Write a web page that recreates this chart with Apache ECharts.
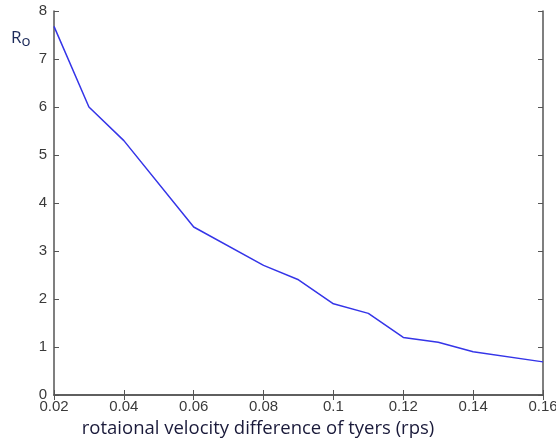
<!DOCTYPE html>
<html><head><meta charset="utf-8">
<script src="https://cdn.jsdelivr.net/npm/echarts@6/dist/echarts.min.js"></script>
<style>html,body{margin:0;padding:0;background:#fff}#c{width:556px;height:440px}</style>
</head><body><div id="c"></div>
<script>
var xValues = [0.02, 0.03, 0.04, 0.06, 0.08, 0.09, 0.10, 0.11, 0.12, 0.13, 0.14, 0.16];
var roValues = [7.68, 6.0, 5.3, 3.5, 2.7, 2.4, 1.9, 1.7, 1.2, 1.1, 0.9, 0.69];
var xTitle = 'rotaional velocity difference of tyers (rps)';

var chart = echarts.init(document.getElementById('c'));
var axisCol = '#555';
var tick = {show:true, inside:true, length:5, lineStyle:{color:axisCol}};
chart.setOption({
  animation:false,
  title:{
    text:'{a|R}{b|o}', left:6, top:23,
    textStyle:{fontWeight:'normal', rich:{
      a:{fontSize:17, color:'#1c2a5a', fontFamily:'Open Sans', fontWeight:'normal'},
      b:{fontSize:15, color:'#1c2a5a', fontFamily:'Open Sans', fontWeight:'normal', padding:[6,0,0,0]}
    }}
  },
  grid:{left:54, right:13, top:11, bottom:45, containLabel:false, outerBoundsMode:'none'},
  xAxis:[{
    type:'value', min:0.02, max:0.16, interval:0.02, position:'bottom',
    name:xTitle, nameLocation:'middle', nameGap:23,
    nameTextStyle:{fontSize:18.5, color:'#1a1a3a', fontFamily:'Open Sans', padding:[0,81,0,0]},
    axisLine:{show:true, lineStyle:{color:axisCol, width:1.5}},
    axisTick:tick, splitLine:{show:false},
    axisLabel:{fontSize:15, color:'#3a3a3a', margin:4, fontFamily:'Liberation Sans',
      formatter:function(v){return String(parseFloat(v.toFixed(2)));}}
  },{
    type:'value', min:0.02, max:0.16, interval:0.02, position:'top',
    axisLine:{show:true, lineStyle:{color:axisCol, width:1.5}},
    axisTick:tick, splitLine:{show:false}, axisLabel:{show:false}
  }],
  yAxis:[{
    type:'value', min:0, max:8, interval:1, position:'left',
    axisLine:{show:true, lineStyle:{color:axisCol, width:1.5}},
    axisTick:tick, splitLine:{show:false},
    axisLabel:{fontSize:15, color:'#3a3a3a', margin:7, fontFamily:'Liberation Sans'}
  },{
    type:'value', min:0, max:8, interval:1, position:'right',
    axisLine:{show:true, lineStyle:{color:axisCol, width:1.5}},
    axisTick:tick, splitLine:{show:false}, axisLabel:{show:false}
  }],
  series:[{
    type:'line', xAxisIndex:0, yAxisIndex:0, showSymbol:false,
    data:xValues.map(function(x,i){return [x, roValues[i]];}),
    lineStyle:{color:'#3535e8', width:1.5}, itemStyle:{color:'#3535e8'}
  }]
});
</script></body></html>
